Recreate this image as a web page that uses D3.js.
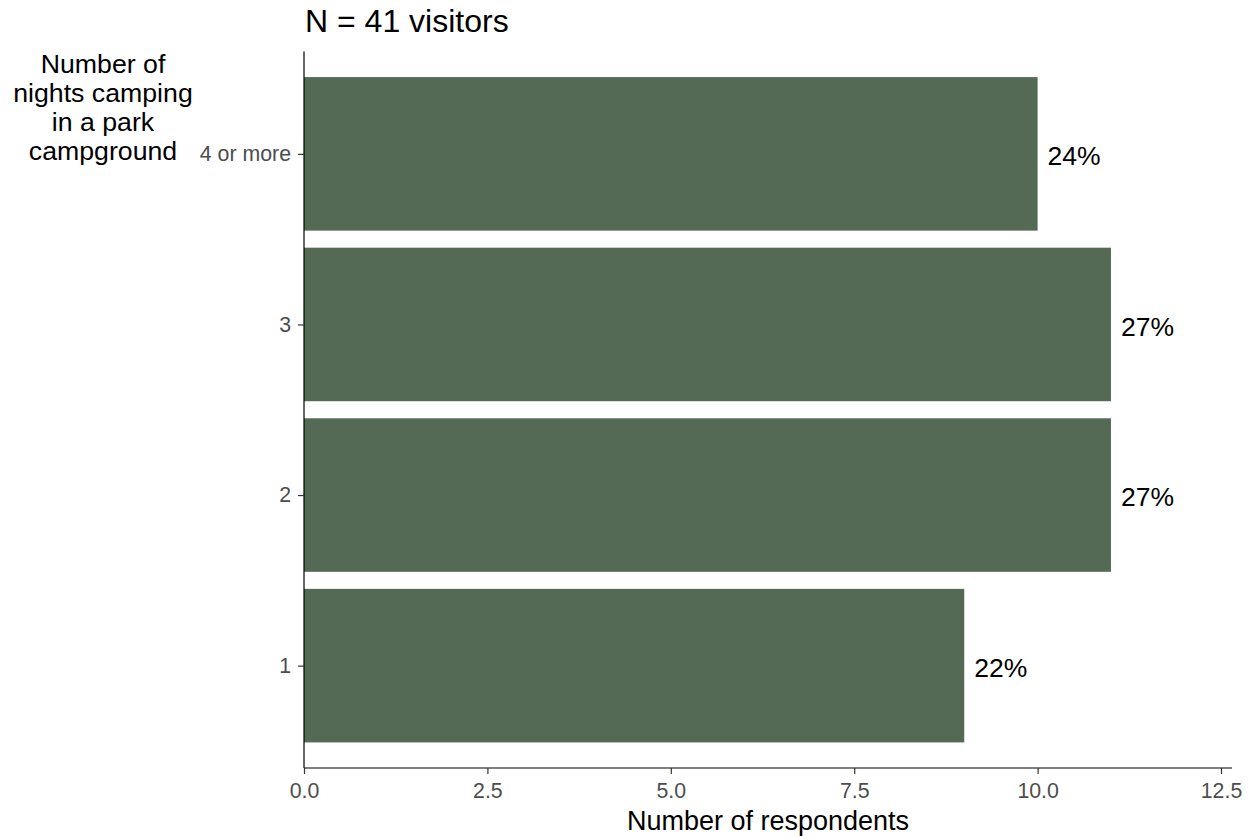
<!DOCTYPE html>
<html><head><meta charset="utf-8">
<script src="https://cdn.jsdelivr.net/npm/d3@7"></script>
<style>body{margin:0;background:#fff}svg{display:block}text{font-family:"Liberation Sans",Arial,sans-serif}</style>
</head><body>
<script>
const categories = ["1", "2", "3", "4 or more"];
const counts = [9, 11, 11, 10];
const pctLabels = ["22%", "27%", "27%", "24%"];
const xTicks = [0, 2.5, 5, 7.5, 10, 12.5];
const titleText = "N = 41 visitors";
const yTitleLines = ["Number of", "nights camping", "in a park", "campground"];
const xTitleText = "Number of respondents";

(function () {
const W = 1252, H = 838;
const pL = 304, pR = 1232, pT = 51.5, pB = 768;
const svg = d3.select("body").append("svg").attr("width", W).attr("height", H);

const x = d3.scaleLinear().domain([0, d3.max(counts) * 1.15]).range([pL, pR]);
// discrete scale with ggplot-like 0.6 expansion
const y = d3.scaleLinear().domain([0.4, categories.length + 0.6]).range([pB, pT]);
const bw = 0.9;

const data = categories.map((c, i) => ({cat: c, n: counts[i], lab: pctLabels[i], pos: i + 1}));

svg.selectAll("rect.bar").data(data).enter().append("rect")
  .attr("class", "bar")
  .attr("x", x(0))
  .attr("y", d => y(d.pos + bw / 2))
  .attr("width", d => x(d.n) - x(0))
  .attr("height", d => y(d.pos - bw / 2) - y(d.pos + bw / 2))
  .attr("fill", "#546A54");

svg.selectAll("text.lab").data(data).enter().append("text")
  .attr("class", "lab")
  .attr("x", d => x(d.n) + 10)
  .attr("y", d => y(d.pos) + 2)
  .attr("dy", "0.35em")
  .attr("font-size", 26.5)
  .attr("fill", "#000")
  .text(d => d.lab);

// x axis
const xAxis = svg.append("g").attr("transform", `translate(0,${pB})`)
  .call(d3.axisBottom(x).tickValues(xTicks).tickFormat(d3.format(".1f")).tickSize(6).tickPadding(9));
xAxis.select(".domain").attr("stroke", "#000").attr("stroke-width", 1.2).attr("d", `M${pL},0H${pR}`);
xAxis.selectAll(".tick line").attr("stroke", "#333").attr("stroke-width", 1.2);
xAxis.selectAll(".tick text").attr("font-size", 21.3).attr("fill", "#4D4D4D").attr("font-family", "Liberation Sans, Arial, sans-serif");

// y axis
const yAxis = svg.append("g").attr("transform", `translate(${pL},0)`)
  .call(d3.axisLeft(y).tickValues(data.map(d => d.pos)).tickFormat((d, i) => categories[i]).tickSize(6).tickPadding(7));
yAxis.select(".domain").attr("stroke", "#000").attr("stroke-width", 1.2).attr("d", `M0,${pT}V${pB}`);
yAxis.selectAll(".tick line").attr("stroke", "#333").attr("stroke-width", 1.2);
yAxis.selectAll(".tick text").attr("font-size", 21.3).attr("fill", "#4D4D4D").attr("font-family", "Liberation Sans, Arial, sans-serif");

// title
svg.append("text").attr("x", 305).attr("y", 32).attr("font-size", 32).attr("fill", "#000").text(titleText);

// x title
svg.append("text").attr("x", (pL + pR) / 2).attr("y", 830).attr("text-anchor", "middle")
  .attr("font-size", 27).attr("fill", "#000").text(xTitleText);

// y title
const yt = svg.append("text").attr("text-anchor", "middle").attr("font-size", 26.7).attr("fill", "#000");
yTitleLines.forEach((l, i) => {
  yt.append("tspan").attr("x", 103).attr("y", 73 + i * 29).text(l);
});
})();
</script>
</body></html>
